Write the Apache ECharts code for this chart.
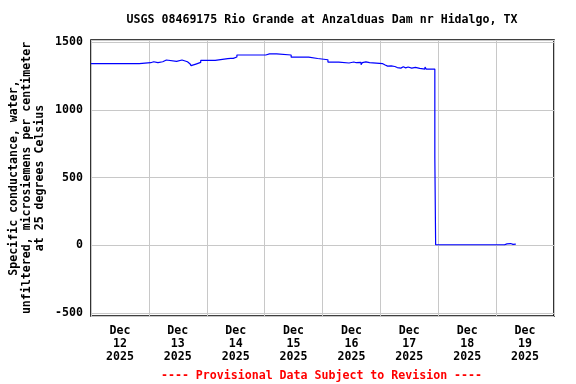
<!DOCTYPE html>
<html>
<head>
<meta charset="utf-8">
<script src="https://cdn.jsdelivr.net/npm/echarts@6/dist/echarts.min.js"></script>
<style>
html,body{margin:0;padding:0;background:#fff;}
#chart{width:576px;height:384px;}
</style>
</head>
<body>
<div id="chart"></div>
<script>
const chartTitle = "USGS 08469175 Rio Grande at Anzalduas Dam nr Hidalgo, TX";
const footerText = "---- Provisional Data Subject to Revision ----";
const yAxisTitle = "Specific conductance, water,\nunfiltered, microsiemens per centimeter\nat 25 degrees Celsius";
const monthNames = ["Jan","Feb","Mar","Apr","May","Jun","Jul","Aug","Sep","Oct","Nov","Dec"];
const xStart = "2025-12-12 00:00";
const xEnd = "2025-12-20 00:00";
const yMin = -524;
const yMax = 1518;

const times = [
  "2025-12-12 00:00","2025-12-12 20:00","2025-12-13 00:45","2025-12-13 02:00","2025-12-13 03:45",
  "2025-12-13 05:45","2025-12-13 06:30","2025-12-13 07:15","2025-12-13 11:30","2025-12-13 13:45",
  "2025-12-13 16:00","2025-12-13 17:00","2025-12-13 17:30","2025-12-13 18:15","2025-12-13 19:30",
  "2025-12-13 21:30","2025-12-14 03:30","2025-12-14 08:45","2025-12-14 09:15","2025-12-14 10:00",
  "2025-12-14 10:30","2025-12-14 11:00","2025-12-14 12:30","2025-12-15 00:30","2025-12-15 02:00",
  "2025-12-15 02:30","2025-12-15 05:00","2025-12-15 11:00","2025-12-15 18:15","2025-12-15 22:00",
  "2025-12-16 02:15","2025-12-16 06:45","2025-12-16 11:00","2025-12-16 13:00","2025-12-16 14:00",
  "2025-12-16 14:30","2025-12-16 16:00","2025-12-16 16:30","2025-12-16 17:00","2025-12-16 18:00",
  "2025-12-16 19:30","2025-12-17 01:00","2025-12-17 02:00","2025-12-17 03:00","2025-12-17 03:45",
  "2025-12-17 04:30","2025-12-17 05:15","2025-12-17 06:00","2025-12-17 07:00","2025-12-17 07:30",
  "2025-12-17 08:30","2025-12-17 09:30","2025-12-17 10:30","2025-12-17 11:30","2025-12-17 13:00",
  "2025-12-17 14:30","2025-12-17 16:20","2025-12-17 18:30","2025-12-17 19:00","2025-12-17 22:35",
  "2025-12-17 22:55","2025-12-19 03:30","2025-12-19 04:30","2025-12-19 05:00","2025-12-19 06:00",
  "2025-12-19 07:00","2025-12-19 07:30","2025-12-19 08:10"
];
const values = [
  1343,1350,1357,1350,1357,
  1350,1370,1360,1370,1357,
  1343,1335,1328,1340,1352,
  1367,1380,1392,1382,1392,
  1382,1392,1407,1415,1410,
  1415,1407,1391,1381,1372,
  1355,1348,1355,1350,1338,
  1352,1335,1350,1356,1350,
  1343,1333,1325,1318,1326,
  1312,1322,1314,1326,1310,
  1320,1312,1318,1310,1315,
  1308,1303,1318,1303,648,
  3,10,3,12,6,
  18,8,8
];

function toMs(s){
  const [d,t] = s.split(" ");
  const [y,m,dd] = d.split("-").map(Number);
  const [hh,mm] = t.split(":").map(Number);
  return Date.UTC(y, m-1, dd, hh, mm);
}
const DAY = 86400000;
const t0 = toMs(xStart), t1 = toMs(xEnd);
const seriesData = times.map((t,i)=>[toMs(t), values[i]]);

const FONT = "'DejaVu Sans Mono', monospace";
const chart = echarts.init(document.getElementById('chart'), null, {renderer:'canvas'});
chart.setOption({
  animation:false,
  backgroundColor:'#fff',
  title:[
    {text:chartTitle, left:317, top:9, textAlign:'center',
     textStyle:{fontFamily:FONT, fontWeight:'bold', fontSize:11.6, color:'#000'}},
    {text:footerText, left:316.5, top:365, textAlign:'center',
     textStyle:{fontFamily:FONT, fontWeight:'bold', fontSize:11.6, color:'#ff0000'}}
  ],
  grid:{left:91, right:22, top:40, bottom:68, show:true, borderColor:'#000', borderWidth:1.6, backgroundColor:'transparent'},
  xAxis:[
    {type:'value', min:t0, max:t1, interval:DAY/2, position:'bottom',
     axisLine:{show:false}, axisTick:{show:false}, splitLine:{show:false},
     axisLabel:{margin:9, lineHeight:12.7, fontFamily:FONT, fontWeight:'bold', fontSize:11.6, color:'#000',
       showMinLabel:false, showMaxLabel:false,
       formatter:function(v){
         if (((v % DAY) + DAY) % DAY !== DAY/2) return '';
         const d = new Date(v);
         return monthNames[d.getUTCMonth()] + "\n" + d.getUTCDate() + "\n" + d.getUTCFullYear();
       }}},
    {type:'value', min:t0, max:t1, interval:DAY, position:'bottom',
     axisLine:{show:false}, axisTick:{show:false}, axisLabel:{show:false},
     splitLine:{show:true, lineStyle:{color:'#c8c8c8', width:1}}}
  ],
  yAxis:{type:'value', min:yMin, max:yMax, splitNumber:5,
    axisLine:{show:false}, axisTick:{show:false},
    splitLine:{show:true, lineStyle:{color:'#c8c8c8', width:1}},
    axisLabel:{margin:8, fontFamily:FONT, fontWeight:'bold', fontSize:11.6, color:'#000',
      showMinLabel:false, showMaxLabel:false,
      formatter:function(v){ return String(v); }}},
  graphic:[
    {type:'text', x:27, y:178, rotation:Math.PI/2,
     style:{text:yAxisTitle, fontFamily:FONT, fontWeight:'bold', fontSize:11.6, lineHeight:13,
       fill:'#000', textAlign:'center', textVerticalAlign:'middle'}}
  ],
  series:[{
    type:'line', xAxisIndex:0, step:'end', showSymbol:false, symbol:'none',
    data:seriesData, lineStyle:{color:'#0000ff', width:1.2}, itemStyle:{color:'#0000ff'}
  }]
});
</script>
</body>
</html>
